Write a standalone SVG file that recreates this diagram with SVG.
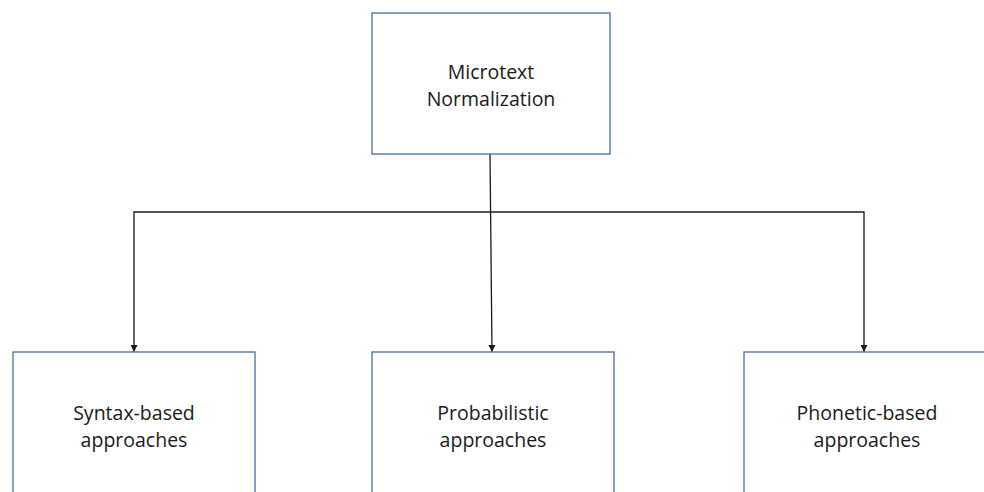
<svg xmlns="http://www.w3.org/2000/svg" width="984" height="492" viewBox="0 0 984 492">
<style>
.box{fill:#ffffff;stroke:#4a6ea6;stroke-width:1.3}
.lbl{font-family:"Open Sans","Liberation Sans",sans-serif;font-size:19.5px;fill:#1a1a1a;text-anchor:middle}
.con{fill:none;stroke:#1a1a1a;stroke-width:1.3}
</style>
<defs>
<marker id="ah" viewBox="0 0 10 10" refX="10" refY="5" markerWidth="7" markerHeight="7" markerUnits="userSpaceOnUse" orient="auto">
<path d="M0,0 L10,5 L0,10 Z" fill="#1a1a1a"/>
</marker>
</defs>
<rect width="984" height="492" fill="#ffffff"/>
<g id="connectors">
<path class="con" d="M490,154 L492,352" marker-end="url(#ah)"/>
<path class="con" d="M491,212 L134,212 L134,352" marker-end="url(#ah)"/>
<path class="con" d="M491,212 L864,212 L864,352" marker-end="url(#ah)"/>
</g>
<g id="microtext">
<rect class="box" x="372" y="13" width="238" height="141"/>
<text class="lbl" x="491" y="79">Microtext</text>
<text class="lbl" x="491" y="106">Normalization</text>
</g>
<g id="syntax">
<rect class="box" x="13" y="352" width="242" height="150"/>
<text class="lbl" x="134" y="420">Syntax-based</text>
<text class="lbl" x="134" y="447">approaches</text>
</g>
<g id="probabilistic">
<rect class="box" x="372" y="352" width="242" height="150"/>
<text class="lbl" x="493" y="420">Probabilistic</text>
<text class="lbl" x="493" y="447">approaches</text>
</g>
<g id="phonetic">
<rect class="box" x="744" y="352" width="260" height="150"/>
<text class="lbl" x="867" y="420">Phonetic-based</text>
<text class="lbl" x="867" y="447">approaches</text>
</g>
</svg>
